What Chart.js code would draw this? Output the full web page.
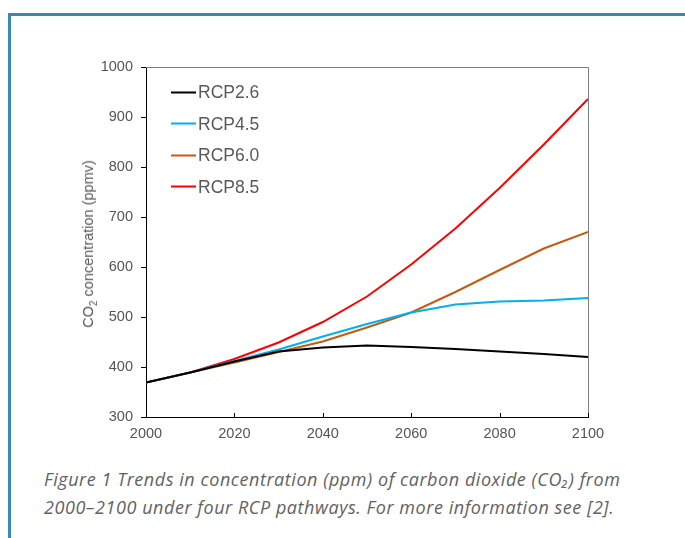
<!DOCTYPE html>
<html>
<head>
<meta charset="utf-8">
<script src="https://cdn.jsdelivr.net/npm/chart.js@4.4.0/dist/chart.umd.min.js"></script>
<style>
  html, body { margin: 0; padding: 0; background: #fff; }
  body { width: 685px; height: 538px; position: relative; overflow: hidden; font-family: "Liberation Sans", Arial, sans-serif; }
  .frame { position: absolute; left: 8px; top: 13px; right: -10px; bottom: -10px; border-top: 3px solid #3a89b4; border-left: 3px solid #3a89b4; }
  #wrap { position: absolute; left: 0; top: 0; width: 685px; height: 450px; }
  .ytitle { position: absolute; left: 88px; top: 244px; transform: translate(-50%, -50%) rotate(-90deg); white-space: nowrap; font-size: 14.5px; line-height: 16px; color: #595959; }
  .ytitle sub { font-size: 10px; line-height: 0; }
  .legend-item { position: absolute; display: flex; align-items: center; transform: translateY(-50%); font-size: 17.5px; color: #595959; white-space: nowrap; }
  .legend-item .sw { display: inline-block; width: 25px; height: 2px; margin-right: 2px; }
  .caption { position: absolute; left: 44px; top: 465px; font-family: "Open Sans", Lato, sans-serif; font-style: italic; font-size: 18px; letter-spacing: 0.55px; line-height: 28px; color: #626262; white-space: nowrap; }
</style>
</head>
<body>
<div class="frame"></div>
<div id="wrap"><canvas id="co2Chart" width="685" height="450"></canvas></div>
<div class="ytitle">CO<sub>2</sub> concentration (ppmv)</div>
<div class="caption">Figure 1 Trends in concentration (ppm) of carbon dioxide (CO₂) from<br>2000–2100 under four RCP pathways. For more information see [2].</div>
<script>
  const years = [2000, 2010, 2020, 2030, 2040, 2050, 2060, 2070, 2080, 2090, 2100];
  const rcp26 = [369, 389, 411, 431, 439, 443, 440, 436, 431, 426, 420];
  const rcp45 = [369, 389, 412, 435, 461, 486, 509, 525, 531, 533, 538];
  const rcp60 = [369, 389, 409, 430, 451, 479, 509, 550, 594, 637, 670];
  const rcp85 = [369, 389, 416, 449, 490, 541, 605, 677, 758, 845, 936];
  const seriesNames = ["RCP2.6", "RCP4.5", "RCP6.0", "RCP8.5"];
  const seriesColors = ["#000000", "#00b0f0", "#c55a11", "#ff0000"];
  const xTicks = [2000, 2020, 2040, 2060, 2080, 2100];
  const yTicks = [300, 400, 500, 600, 700, 800, 900, 1000];

  const allSeries = [rcp26, rcp45, rcp60, rcp85];

  Chart.defaults.font.family = "'Liberation Sans', Arial, sans-serif";

  // outline of the plot area plus the inward x tick marks
  const frameLines = {
    id: "frameLines",
    beforeDatasetsDraw(chart) {
      const { ctx, chartArea: a } = chart;
      ctx.save();
      ctx.strokeStyle = "#7f7f7f";
      ctx.lineWidth = 1;
      ctx.beginPath();
      ctx.moveTo(a.left, a.top + 0.5);
      ctx.lineTo(a.right + 0.5, a.top + 0.5);
      ctx.lineTo(a.right + 0.5, a.bottom);
      ctx.stroke();
      ctx.restore();
    },
    afterDraw(chart) {
      const { ctx, chartArea: a } = chart;
      const xs = chart.scales.x;
      ctx.save();
      ctx.strokeStyle = "#000";
      ctx.lineWidth = 1;
      xTicks.forEach((t) => {
        const px = Math.round(xs.getPixelForValue(t)) + 0.5;
        ctx.beginPath();
        ctx.moveTo(px, a.bottom);
        ctx.lineTo(px, a.bottom - 4);
        ctx.stroke();
      });
      ctx.restore();
    },
  };

  const chart = new Chart(document.getElementById("co2Chart"), {
    type: "line",
    data: {
      datasets: allSeries.map((s, i) => ({
        label: seriesNames[i],
        data: years.map((yr, j) => ({ x: yr, y: s[j] })),
        borderColor: seriesColors[i],
        backgroundColor: seriesColors[i],
        borderWidth: 2,
        pointRadius: 0,
        tension: 0,
        fill: false,
      })),
    },
    options: {
      responsive: false,
      animation: false,
      layout: { padding: { left: 0, top: 67, right: 97, bottom: 0 } },
      plugins: { legend: { display: false }, tooltip: { enabled: false } },
      scales: {
        x: {
          type: "linear",
          min: 2000,
          max: 2100,
          afterBuildTicks: (scale) => { scale.ticks = xTicks.map((v) => ({ value: v })); },
          afterFit: (scale) => { scale.height = 33; },
          grid: { display: false, drawTicks: false },
          border: { color: "#000", width: 1 },
          ticks: {
            callback: (v) => String(v),
            color: "#555555",
            font: { size: 14.5 },
            padding: 8,
            maxRotation: 0,
          },
        },
        y: {
          min: 300,
          max: 1000,
          afterBuildTicks: (scale) => { scale.ticks = yTicks.map((v) => ({ value: v })); },
          afterFit: (scale) => { scale.width = 146; },
          grid: { drawOnChartArea: false, drawTicks: true, tickLength: 5, color: "#000" },
          border: { color: "#000", width: 1 },
          ticks: {
            callback: (v) => String(v),
            color: "#555555",
            font: { size: 14.5 },
            padding: 8,
          },
        },
      },
    },
    plugins: [frameLines],
  });

  // legend inside the plot area, upper left
  const area = chart.chartArea;
  chart.data.datasets.forEach((ds, i) => {
    const item = document.createElement("div");
    item.className = "legend-item";
    item.style.left = area.left + 25 + "px";
    item.style.top = area.top + 25 + i * 31.5 + "px";
    item.innerHTML = `<span class="sw" style="background:${ds.borderColor}"></span><span>${ds.label}</span>`;
    document.body.appendChild(item);
  });
</script>
</body>
</html>
